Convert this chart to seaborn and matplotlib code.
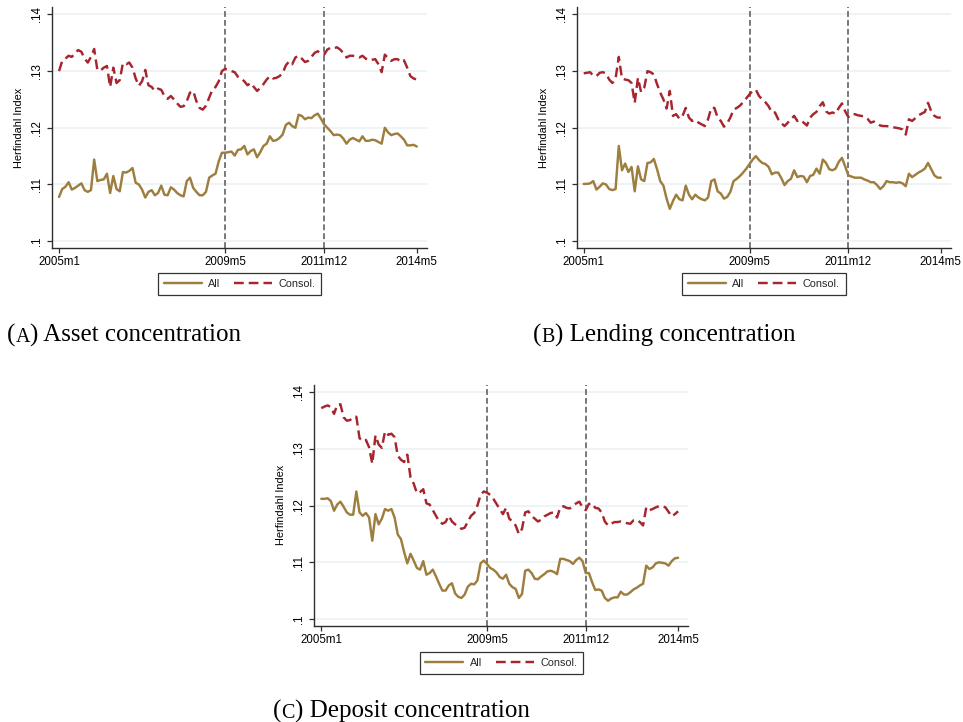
import numpy as np
import pandas as pd
import matplotlib
matplotlib.use("Agg")
import matplotlib.pyplot as plt
import seaborn as sns

# ---------------- data ----------------
start_month = "2005-01"
end_month = "2014-05"
tick_labels = ["2005m1", "2009m5", "2011m12", "2014m5"]
event_labels = ["2009m5", "2011m12"]
y_ticks = [0.10, 0.11, 0.12, 0.13, 0.14]
y_tick_labels = [".1", ".11", ".12", ".13", ".14"]
series_names = ["All", "Consol."]

asset_all = [
    0.1078, 0.1092, 0.1096, 0.1104, 0.1091, 0.1094, 0.1098, 0.1102, 0.1090, 0.1087,
    0.1090, 0.1144, 0.1106, 0.1108, 0.1109, 0.1119, 0.1085, 0.1115, 0.1092, 0.1088,
    0.1122, 0.1121, 0.1124, 0.1129, 0.1103, 0.1100, 0.1091, 0.1077, 0.1087, 0.1090,
    0.1081, 0.1085, 0.1098, 0.1082, 0.1081, 0.1095, 0.1091, 0.1085, 0.1081, 0.1079,
    0.1106, 0.1112, 0.1094, 0.1087, 0.1081, 0.1081, 0.1087, 0.1112, 0.1116, 0.1119,
    0.1141, 0.1156, 0.1156, 0.1157, 0.1158, 0.1151, 0.1161, 0.1162, 0.1168, 0.1153,
    0.1159, 0.1162, 0.1148, 0.1157, 0.1168, 0.1172, 0.1185, 0.1177, 0.1178, 0.1182,
    0.1188, 0.1205, 0.1209, 0.1203, 0.1200, 0.1223, 0.1221, 0.1215, 0.1218, 0.1217,
    0.1222, 0.1225, 0.1216, 0.1206, 0.1200, 0.1194, 0.1187, 0.1188, 0.1187, 0.1181,
    0.1172, 0.1179, 0.1182, 0.1179, 0.1176, 0.1185, 0.1177, 0.1177, 0.1179, 0.1178,
    0.1175, 0.1172, 0.1200, 0.1192, 0.1187, 0.1189, 0.1190, 0.1185, 0.1179, 0.1169,
    0.1169, 0.1170, 0.1167,
]
asset_consol = [
    0.1300, 0.1318, 0.1322, 0.1327, 0.1325, 0.1332, 0.1337, 0.1334, 0.1322, 0.1315,
    0.1325, 0.1339, 0.1302, 0.1301, 0.1306, 0.1309, 0.1272, 0.1306, 0.1279, 0.1284,
    0.1314, 0.1312, 0.1315, 0.1306, 0.1287, 0.1274, 0.1282, 0.1302, 0.1275, 0.1272,
    0.1265, 0.1269, 0.1267, 0.1256, 0.1251, 0.1256, 0.1250, 0.1243, 0.1237, 0.1238,
    0.1247, 0.1262, 0.1265, 0.1247, 0.1235, 0.1232, 0.1239, 0.1253, 0.1267, 0.1272,
    0.1282, 0.1300, 0.1304, 0.1302, 0.1300, 0.1298, 0.1290, 0.1287, 0.1282, 0.1275,
    0.1279, 0.1272, 0.1265, 0.1270, 0.1277, 0.1285, 0.1291, 0.1287, 0.1288, 0.1291,
    0.1296, 0.1310, 0.1317, 0.1312, 0.1324, 0.1327, 0.1322, 0.1316, 0.1318, 0.1325,
    0.1332, 0.1335, 0.1331, 0.1329, 0.1338, 0.1341, 0.1340, 0.1342, 0.1338, 0.1332,
    0.1324, 0.1327, 0.1327, 0.1326, 0.1324, 0.1327, 0.1322, 0.1319, 0.1320, 0.1321,
    0.1312, 0.1298, 0.1329, 0.1323, 0.1318, 0.1321, 0.1321, 0.1316, 0.1319, 0.1306,
    0.1291, 0.1287, 0.1285,
]
lending_all = [
    0.1101, 0.1101, 0.1102, 0.1106, 0.1091, 0.1096, 0.1102, 0.1100, 0.1092, 0.1090,
    0.1092, 0.1168, 0.1125, 0.1137, 0.1122, 0.1131, 0.1088, 0.1132, 0.1109, 0.1106,
    0.1138, 0.1139, 0.1145, 0.1127, 0.1106, 0.1098, 0.1075, 0.1057, 0.1071, 0.1082,
    0.1074, 0.1072, 0.1098, 0.1082, 0.1074, 0.1082, 0.1077, 0.1074, 0.1072, 0.1077,
    0.1106, 0.1109, 0.1088, 0.1084, 0.1075, 0.1078, 0.1087, 0.1106, 0.1110, 0.1115,
    0.1121, 0.1128, 0.1136, 0.1144, 0.1150, 0.1143, 0.1138, 0.1136, 0.1131, 0.1118,
    0.1121, 0.1121, 0.1111, 0.1099, 0.1106, 0.1110, 0.1125, 0.1113, 0.1115, 0.1114,
    0.1104, 0.1115, 0.1117, 0.1128, 0.1119, 0.1144, 0.1138, 0.1127, 0.1125, 0.1128,
    0.1140, 0.1147, 0.1132, 0.1116, 0.1114, 0.1112, 0.1112, 0.1112, 0.1109, 0.1107,
    0.1104, 0.1104, 0.1099, 0.1092, 0.1097, 0.1106, 0.1104, 0.1104, 0.1103, 0.1104,
    0.1102, 0.1097, 0.1119, 0.1113, 0.1117, 0.1121, 0.1124, 0.1128, 0.1138, 0.1127,
    0.1116, 0.1112, 0.1112,
]
lending_consol = [
    0.1296, 0.1297, 0.1298, 0.1292, 0.1291, 0.1297, 0.1298, 0.1296, 0.1285, 0.1279,
    0.1287, 0.1325, 0.1287, 0.1285, 0.1284, 0.1279, 0.1244, 0.1288, 0.1263, 0.1271,
    0.1300, 0.1298, 0.1294, 0.1277, 0.1262, 0.1250, 0.1234, 0.1265, 0.1221, 0.1224,
    0.1216, 0.1221, 0.1235, 0.1218, 0.1212, 0.1214, 0.1209, 0.1206, 0.1203, 0.1215,
    0.1235, 0.1235, 0.1218, 0.1212, 0.1202, 0.1208, 0.1218, 0.1232, 0.1235, 0.1239,
    0.1245, 0.1252, 0.1259, 0.1265, 0.1267, 0.1256, 0.1250, 0.1245, 0.1238, 0.1227,
    0.1227, 0.1215, 0.1208, 0.1203, 0.1209, 0.1215, 0.1221, 0.1212, 0.1214, 0.1209,
    0.1204, 0.1218, 0.1224, 0.1228, 0.1238, 0.1245, 0.1229, 0.1225, 0.1227, 0.1225,
    0.1235, 0.1243, 0.1229, 0.1219, 0.1224, 0.1224, 0.1222, 0.1221, 0.1220, 0.1216,
    0.1209, 0.1211, 0.1208, 0.1204, 0.1203, 0.1203, 0.1202, 0.1201, 0.1200, 0.1199,
    0.1197, 0.1188, 0.1215, 0.1212, 0.1217, 0.1222, 0.1225, 0.1228, 0.1244, 0.1229,
    0.1221, 0.1218, 0.1218,
]
deposit_all = [
    0.1212, 0.1212, 0.1213, 0.1208, 0.1191, 0.1202, 0.1207, 0.1198, 0.1188, 0.1184,
    0.1184, 0.1225, 0.1188, 0.1182, 0.1187, 0.1179, 0.1138, 0.1185, 0.1167, 0.1177,
    0.1194, 0.1191, 0.1194, 0.1179, 0.1149, 0.1141, 0.1118, 0.1098, 0.1115, 0.1103,
    0.1090, 0.1087, 0.1102, 0.1078, 0.1081, 0.1087, 0.1075, 0.1062, 0.1050, 0.1050,
    0.1059, 0.1063, 0.1045, 0.1039, 0.1037, 0.1043, 0.1057, 0.1062, 0.1061, 0.1068,
    0.1098, 0.1103, 0.1097, 0.1090, 0.1087, 0.1082, 0.1074, 0.1071, 0.1078, 0.1062,
    0.1056, 0.1053, 0.1037, 0.1044, 0.1085, 0.1087, 0.1081, 0.1071, 0.1070, 0.1075,
    0.1079, 0.1084, 0.1085, 0.1083, 0.1079, 0.1106, 0.1106, 0.1104, 0.1102, 0.1097,
    0.1104, 0.1108, 0.1102, 0.1081, 0.1081, 0.1065, 0.1051, 0.1052, 0.1050, 0.1037,
    0.1032, 0.1036, 0.1038, 0.1038, 0.1048, 0.1043, 0.1043, 0.1047, 0.1052, 0.1055,
    0.1059, 0.1062, 0.1094, 0.1088, 0.1091, 0.1098, 0.1100, 0.1099, 0.1098, 0.1094,
    0.1102, 0.1107, 0.1108,
]
deposit_consol = [
    0.1372, 0.1375, 0.1377, 0.1374, 0.1362, 0.1378, 0.1379, 0.1356, 0.1350, 0.1351,
    0.1356, 0.1357, 0.1319, 0.1314, 0.1316, 0.1303, 0.1274, 0.1324, 0.1308, 0.1302,
    0.1331, 0.1325, 0.1327, 0.1321, 0.1288, 0.1281, 0.1277, 0.1290, 0.1250, 0.1239,
    0.1222, 0.1224, 0.1229, 0.1204, 0.1202, 0.1192, 0.1182, 0.1172, 0.1168, 0.1171,
    0.1182, 0.1172, 0.1167, 0.1163, 0.1159, 0.1161, 0.1172, 0.1182, 0.1187, 0.1200,
    0.1219, 0.1225, 0.1223, 0.1219, 0.1212, 0.1203, 0.1194, 0.1185, 0.1196, 0.1177,
    0.1172, 0.1165, 0.1150, 0.1159, 0.1188, 0.1190, 0.1182, 0.1177, 0.1172, 0.1175,
    0.1181, 0.1184, 0.1187, 0.1188, 0.1179, 0.1197, 0.1199, 0.1196, 0.1195, 0.1200,
    0.1204, 0.1207, 0.1197, 0.1192, 0.1203, 0.1204, 0.1196, 0.1195, 0.1188, 0.1172,
    0.1165, 0.1168, 0.1171, 0.1171, 0.1172, 0.1170, 0.1169, 0.1168, 0.1174, 0.1175,
    0.1171, 0.1165, 0.1197, 0.1192, 0.1194, 0.1197, 0.1199, 0.1199, 0.1197, 0.1189,
    0.1181, 0.1185, 0.1190,
]

captions = [("A", "Asset concentration"),
            ("B", "Lending concentration"),
            ("C", "Deposit concentration")]

# ---------------- style ----------------
sns.set_theme(style="white")
plt.rcParams["font.family"] = ["Liberation Sans", "DejaVu Sans"]
plt.rcParams["lines.scale_dashes"] = False

COL_ALL = "#9E7E3E"
COL_CON = "#A6252E"
GRID = "#EAF1F3"
VLINE = "#6E6E6E"
AXIS = "#2E2E2E"

months = pd.period_range(start_month, end_month, freq="M")
t0 = months[0]


def label_pos(lbl):
    y, m = lbl.split("m")
    return (pd.Period(year=int(y), month=int(m), freq="M") - t0).n


W, H = 963, 722
fig = plt.figure(figsize=(W / 100, H / 100), dpi=100)
fig.patch.set_facecolor("white")


def add_axes_px(l, t, r, b):
    return fig.add_axes([l / W, 1 - b / H, (r - l) / W, (b - t) / H])


panels = [
    (add_axes_px(52, 7, 427, 248), asset_all, asset_consol, -0.104),
    (add_axes_px(576.7, 7, 951, 248), lending_all, lending_consol, -0.104),
    (add_axes_px(314.3, 385, 688.3, 625.7), deposit_all, deposit_consol, -0.109),
]

for ax, s_all, s_con, leg_y in panels:
    df = pd.DataFrame({"t": np.arange(len(months)), "All": s_all, "Consol.": s_con})
    ax.set_facecolor("white")
    ax.set_yticks(y_ticks)
    ax.set_yticklabels(y_tick_labels)
    ax.grid(axis="y", color=GRID, lw=1.1)
    ax.grid(axis="x", visible=False)
    ax.set_axisbelow(True)
    for ev in event_labels:
        ax.axvline(label_pos(ev), color=VLINE, lw=1.3, dashes=(4.2, 2.2), zorder=1.5)
    sns.lineplot(data=df, x="t", y="All", ax=ax, color=COL_ALL, lw=1.75,
                 label=series_names[0], legend=False, zorder=3)
    sns.lineplot(data=df, x="t", y="Consol.", ax=ax, color=COL_CON, lw=1.75,
                 linestyle=(0, (7.0, 3.6)), label=series_names[1], legend=False, zorder=3)
    ax.set_xlim(-2.2, 115.2)
    ax.set_ylim(0.0988, 0.1413)
    ax.set_xticks([label_pos(l) for l in tick_labels])
    ax.set_xticklabels(tick_labels)
    for sp in ["top", "right"]:
        ax.spines[sp].set_visible(False)
    for sp in ["left", "bottom"]:
        ax.spines[sp].set_color(AXIS)
        ax.spines[sp].set_linewidth(1.0)
    ax.tick_params(axis="both", which="major", bottom=True, left=True, direction="out",
                   length=3.5, width=0.9, color=AXIS, labelsize=8.3, labelcolor="black")
    ax.tick_params(axis="x", pad=2.5)
    ax.tick_params(axis="y", pad=3, labelrotation=90)
    for lbl in ax.get_yticklabels():
        lbl.set_va("center")
    ax.set_xlabel("")
    ax.set_ylabel("Herfindahl Index", fontsize=7.9, labelpad=5, color="black")
    handles = ax.get_lines()[-2:]
    leg = ax.legend(handles, series_names, loc="upper center", bbox_to_anchor=(0.5, leg_y),
                    ncol=2, frameon=True, fancybox=False, edgecolor="black", fontsize=7.8,
                    handlelength=3.5, handletextpad=0.6, columnspacing=1.25, borderpad=0.55,
                    borderaxespad=0)
    leg.get_frame().set_linewidth(0.9)
    leg.get_frame().set_facecolor("white")

# ---------------- captions ----------------
cap_pos = [(7, 342), (533, 342), (273, 718)]
SERIF = ["Liberation Serif", "DejaVu Serif"]
anchor_ax = panels[2][0]
for (letter, text), (xp, yp) in zip(captions, cap_pos):
    fs = 18
    t1 = fig.text(xp / W, 1 - yp / H, "(", fontsize=fs, family=SERIF, va="baseline",
                  ha="left", color="black")
    t2 = anchor_ax.annotate(letter, xy=(1, 0), xycoords=t1, va="bottom", ha="left",
                            fontsize=fs * 0.8, family=SERIF, annotation_clip=False, color="black")
    anchor_ax.annotate(") " + text, xy=(1, 0), xycoords=t2, va="bottom", ha="left",
                       fontsize=fs, family=SERIF, annotation_clip=False, color="black")

fig.savefig("out.png", dpi=100, facecolor="white")
